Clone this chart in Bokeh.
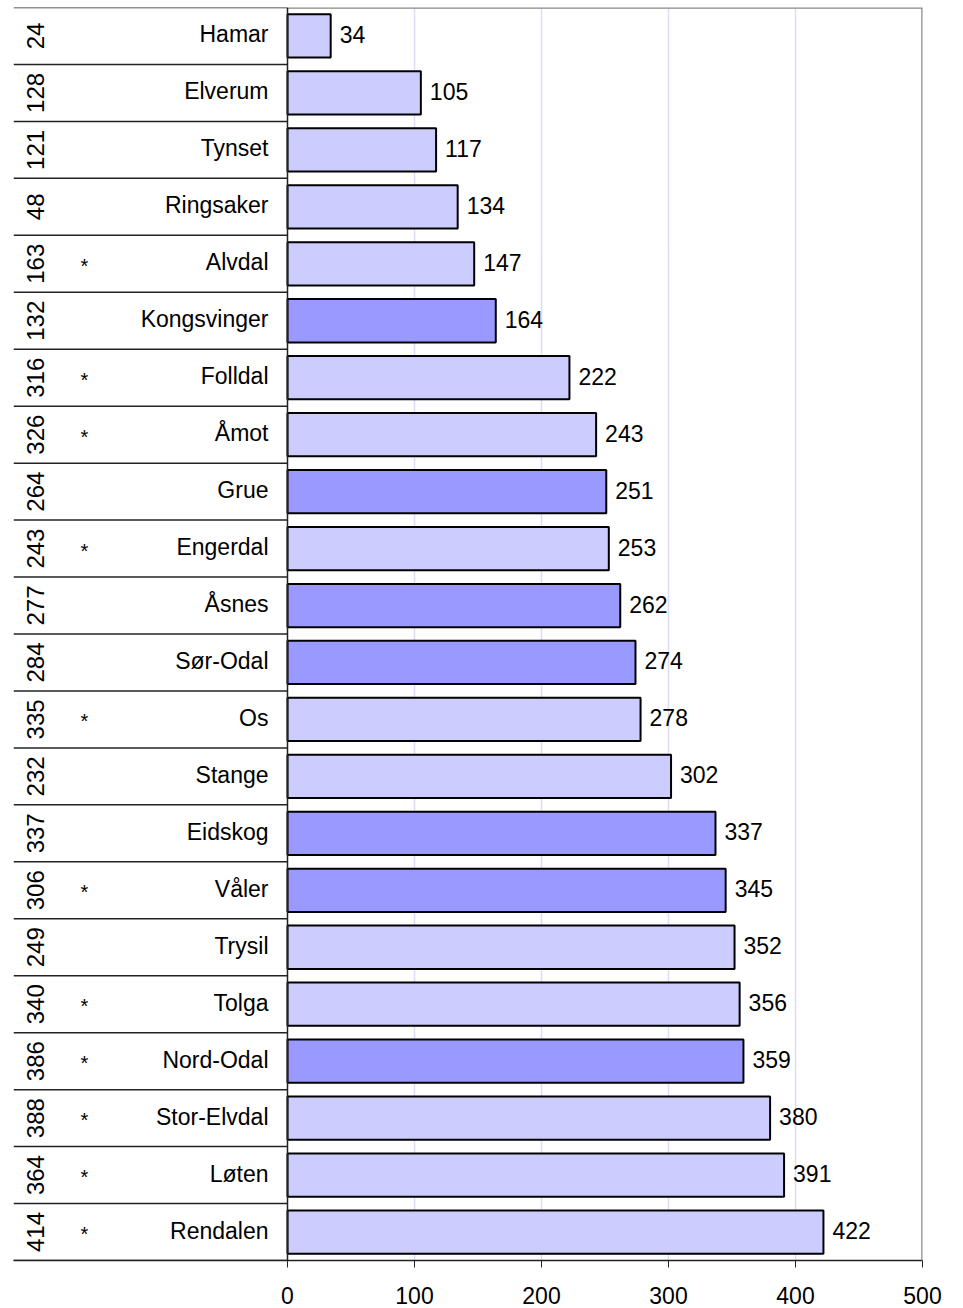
from bokeh.plotting import figure
from bokeh.models import ColumnDataSource, Range1d, FixedTicker, Span
from bokeh.core.properties import value
from bokeh.embed import file_html
from bokeh.resources import INLINE

# ---- data ----
names = ["Hamar", "Elverum", "Tynset", "Ringsaker", "Alvdal", "Kongsvinger", "Folldal",
         "Åmot", "Grue", "Engerdal", "Åsnes", "Sør-Odal", "Os", "Stange", "Eidskog",
         "Våler", "Trysil", "Tolga", "Nord-Odal", "Stor-Elvdal", "Løten", "Rendalen"]
ranks = [24, 128, 121, 48, 163, 132, 316, 326, 264, 243, 277, 284, 335, 232, 337,
         306, 249, 340, 386, 388, 364, 414]
marks = ["", "", "", "", "*", "", "*", "*", "", "*", "", "", "*", "", "",
         "*", "", "*", "*", "*", "*", "*"]
values = [34, 105, 117, 134, 147, 164, 222, 243, 251, 253, 262, 274, 278, 302, 337,
          345, 352, 356, 359, 380, 391, 422]
group = ["a", "a", "a", "a", "a", "b", "a", "a", "b", "a", "b", "b", "a", "a", "b",
         "b", "a", "a", "b", "a", "a", "a"]
x_ticks = [0, 100, 200, 300, 400, 500]

colors = {"a": "#CCCCFF", "b": "#9999FF"}
FONT = value("Liberation Sans")
n = len(names)

src = ColumnDataSource(dict(
    y=[i + 0.5 for i in range(n)],
    name=names,
    rank=[str(r) for r in ranks],
    mark=marks,
    value=values,
    label=[str(v) for v in values],
    color=[colors[g] for g in group],
))

xmin = -215.75
p = figure(frame_width=909, frame_height=1253,
           x_range=Range1d(xmin, 500), y_range=Range1d(n, 0),
           y_axis_location=None, toolbar_location=None, output_backend="svg",
           min_border_left=13, min_border_right=30, min_border_top=7, min_border_bottom=47)
p.outline_line_color = None
p.background_fill_color = "white"
p.border_fill_color = "white"

# grid
p.ygrid.grid_line_color = None
p.xgrid.ticker = FixedTicker(ticks=[100, 200, 300, 400])
p.xgrid.grid_line_color = "#DCDCF6"
p.xgrid.grid_line_width = 1.5

# x axis
p.xaxis.ticker = FixedTicker(ticks=x_ticks)
p.xaxis.axis_line_color = "#222222"
p.xaxis.axis_line_width = 1.5
p.xaxis.major_tick_in = 0
p.xaxis.major_tick_out = 7
p.xaxis.major_tick_line_color = "#222222"
p.xaxis.minor_tick_line_color = None
p.xaxis.major_label_text_font = "Liberation Sans"
p.xaxis.major_label_text_font_size = "23px"
p.xaxis.major_label_text_color = "black"
p.xaxis.major_label_standoff = 19

# table row lines on the left
p.segment(x0=[xmin] * (n + 1), x1=[0] * (n + 1), y0=list(range(n + 1)), y1=list(range(n + 1)),
          line_color="#222222", line_width=1.5)
# top border of plot area
p.segment(x0=[0], x1=[500], y0=[0], y1=[0], line_color="#888888", line_width=2.5)

# bars
p.hbar(y="y", left=0, right="value", height=0.76, source=src,
       fill_color="color", line_color="black", line_width=2)

# value labels
p.text(x="value", y="y", text="label", source=src, x_offset=9, y_offset=-1.5,
       text_align="left", text_baseline="middle", text_font=FONT,
       text_font_size="23px", text_color="black")

# names
p.text(x=0, y="y", text="name", source=src, x_offset=-19, y_offset=-1.5,
       text_align="right", text_baseline="middle", text_font=FONT,
       text_font_size="23px", text_color="black")

# asterisks
p.text(x=0, y="y", text="mark", source=src, x_offset=-203, y_offset=2,
       text_align="center", text_baseline="middle", text_font=FONT,
       text_font_size="20px", text_color="black")

# ranks (rotated)
p.text(x=0, y="y", text="rank", source=src, x_offset=-252,
       angle=1.5707963, text_align="center", text_baseline="middle", text_font=FONT,
       text_font_size="24px", text_color="black")

# right border and y axis line
p.add_layout(Span(location=500, dimension="height", line_color="#888888", line_width=2.5))
p.add_layout(Span(location=0, dimension="height", line_color="#222222", line_width=1.5))

open("out.html", "w").write(file_html(p, INLINE))
